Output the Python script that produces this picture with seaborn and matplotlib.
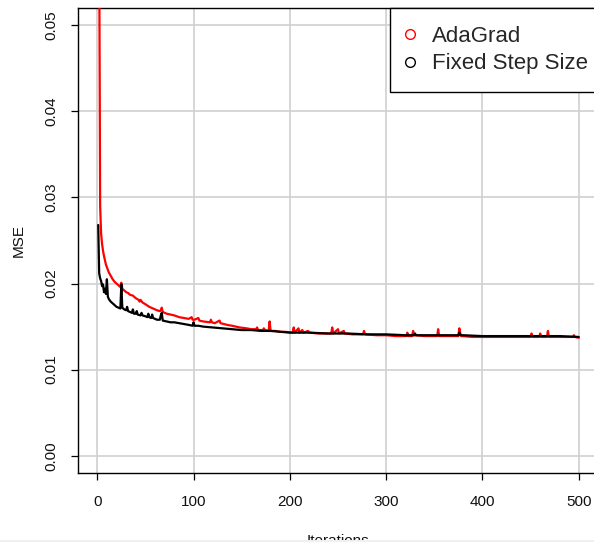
import matplotlib
matplotlib.use("Agg")
import matplotlib.pyplot as plt
from matplotlib.lines import Line2D
from matplotlib.patches import Rectangle
import seaborn as sns
import pandas as pd

# ---- data ----
ada_iter = [1, 2, 3, 4, 5, 6, 7, 8, 9, 10, 12, 14, 16, 18, 20, 22, 24, 25, 26, 28, 30, 32, 34,
            37, 40, 43, 44, 45, 47, 50, 54, 58, 62, 65, 66, 67, 68, 72, 76, 80, 85, 90, 95, 98,
            99, 101, 105, 106, 110, 117, 118, 119, 122, 127, 128, 135, 140, 148, 155, 160, 165,
            166, 167, 172, 173, 174, 178, 179, 180, 185, 190, 195, 203, 204, 205, 209, 210, 213,
            214, 219, 220, 230, 240, 243, 244, 245, 250, 251, 256, 257, 265, 276, 277, 278, 290,
            300, 310, 321, 322, 323, 327, 328, 329, 340, 353, 354, 355, 365, 375, 376, 377, 378,
            390, 400, 420, 440, 450, 451, 452, 459, 460, 461, 467, 468, 469, 480, 490, 494, 495,
            496, 500]
ada_mse = [0.30, 0.060, 0.0290, 0.0258, 0.0246, 0.0238, 0.0232, 0.0227, 0.0222, 0.0219, 0.0213,
           0.0209, 0.0205, 0.0202, 0.0200, 0.0198, 0.0196, 0.0201, 0.0194, 0.0192, 0.0190, 0.0189,
           0.0187, 0.0186, 0.0183, 0.0181, 0.0179, 0.0181, 0.0178, 0.0176, 0.0173, 0.0171, 0.0169,
           0.0168, 0.0169, 0.0172, 0.0167, 0.0165, 0.0164, 0.0163, 0.0161, 0.0160, 0.0159, 0.0161,
           0.0158, 0.0158, 0.0160, 0.0157, 0.0156, 0.0155, 0.0158, 0.0155, 0.0154, 0.0157, 0.0154,
           0.0152, 0.0151, 0.0149, 0.0148, 0.0147, 0.0147, 0.0149, 0.0146, 0.0146, 0.0148, 0.0146,
           0.0145, 0.0156, 0.0145, 0.0145, 0.0144, 0.0144, 0.0143, 0.0149, 0.0143, 0.0148, 0.0143,
           0.0146, 0.0143, 0.0145, 0.0143, 0.0142, 0.0142, 0.0142, 0.0149, 0.0142, 0.0147, 0.0142,
           0.0145, 0.0142, 0.0141, 0.0141, 0.0145, 0.0141, 0.0140, 0.0140, 0.0139, 0.0139, 0.0143,
           0.0139, 0.0139, 0.0145, 0.0140, 0.0139, 0.0139, 0.0147, 0.0139, 0.0139, 0.0139, 0.0148,
           0.0142, 0.0139, 0.0138, 0.0138, 0.0138, 0.0138, 0.0138, 0.0142, 0.0138, 0.0138, 0.0142,
           0.0138, 0.0138, 0.0145, 0.0138, 0.0138, 0.0138, 0.0138, 0.0140, 0.0138, 0.0137]

fixed_iter = [1, 2, 3, 4, 5, 6, 7, 8, 9, 10, 11, 12, 14, 16, 18, 20, 22, 24, 25, 26, 28, 30, 31,
              32, 34, 36, 37, 38, 40, 41, 42, 45, 46, 47, 50, 52, 53, 54, 56, 57, 58, 62, 65, 66,
              67, 68, 72, 76, 80, 85, 90, 95, 99, 100, 101, 105, 110, 120, 130, 140, 150, 160,
              170, 180, 190, 200, 220, 240, 260, 280, 300, 320, 329, 330, 331, 340, 360, 375, 376,
              377, 380, 400, 420, 440, 460, 480, 500]
fixed_mse = [0.0268, 0.0212, 0.0206, 0.0203, 0.0197, 0.0199, 0.0190, 0.0194, 0.0188, 0.0205,
             0.0185, 0.0182, 0.0179, 0.0177, 0.0175, 0.0173, 0.0172, 0.0171, 0.0199, 0.0172,
             0.0170, 0.0169, 0.0173, 0.0168, 0.0167, 0.0166, 0.0170, 0.0165, 0.0165, 0.0168,
             0.0164, 0.0163, 0.0166, 0.0163, 0.0162, 0.0161, 0.0165, 0.0161, 0.0160, 0.0164,
             0.0160, 0.0158, 0.0158, 0.0163, 0.0166, 0.0157, 0.0156, 0.0155, 0.0155, 0.0154,
             0.0153, 0.0152, 0.0151, 0.0155, 0.0151, 0.0151, 0.0150, 0.0149, 0.0148, 0.0147,
             0.0146, 0.0146, 0.0145, 0.0145, 0.0144, 0.0143, 0.0143, 0.0142, 0.0142, 0.0141,
             0.0141, 0.0140, 0.0140, 0.0142, 0.0140, 0.0140, 0.0140, 0.0140, 0.0143, 0.0140,
             0.0140, 0.0139, 0.0139, 0.0139, 0.0139, 0.0139, 0.0138]

series_names = ["AdaGrad", "Fixed Step Size"]
series_colors = ["#FF0000", "#000000"]
x_ticks = [0, 100, 200, 300, 400, 500]
y_ticks = [0.00, 0.01, 0.02, 0.03, 0.04, 0.05]
y_tick_labels = ["0.00", "0.01", "0.02", "0.03", "0.04", "0.05"]

df = pd.concat([
    pd.DataFrame({"Iterations": ada_iter, "MSE": ada_mse, "method": series_names[0]}),
    pd.DataFrame({"Iterations": fixed_iter, "MSE": fixed_mse, "method": series_names[1]}),
], ignore_index=True)

sns.set_style("ticks")
plt.rcParams["font.family"] = ["Liberation Sans", "DejaVu Sans"]

W, H = 594, 542
fig = plt.figure(figsize=(W / 100, H / 100), dpi=100)
ax = fig.add_axes([78 / W, (H - 473) / H, 520 / W, 465 / H])

palette = dict(zip(series_names, series_colors))
sns.lineplot(data=df, x="Iterations", y="MSE", hue="method", palette=palette,
             estimator=None, linewidth=1.6, legend=False, ax=ax, zorder=3)

ax.set_xlim(-20, 520)
ax.set_ylim(-0.002, 0.052)
ax.set_xticks(x_ticks)
ax.set_xticklabels([str(t) for t in x_ticks])
ax.set_yticks(y_ticks)
ax.set_yticklabels(y_tick_labels)

ax.grid(True, color="#d0d0d0", linewidth=1.2, zorder=0)
ax.set_axisbelow(True)

for s in ["left", "bottom", "top", "right"]:
    ax.spines[s].set_visible(True)
    ax.spines[s].set_color("black")
    ax.spines[s].set_linewidth(1.0)

ax.tick_params(axis="both", direction="out", length=5, width=0.9, colors="black",
               labelsize=11, labelcolor="#111111")
ax.tick_params(axis="x", pad=11)
ax.tick_params(axis="y", pad=9, labelrotation=90)
for lab in ax.get_yticklabels():
    lab.set_va("center")
    lab.set_ha("right")

ax.set_xlabel("Iterations", fontsize=11, color="#111111")
ax.set_ylabel("MSE", fontsize=11, color="#111111")
ax.xaxis.set_label_coords(0.5, -0.131)
ax.yaxis.set_label_coords(-0.100, 0.5)

handles = [Line2D([0], [0], linestyle="none", marker="o", markersize=7,
                  markerfacecolor="none", markeredgecolor=c, markeredgewidth=1.0)
           for c in series_colors]
leg = ax.legend(handles, series_names, loc="upper left",
                bbox_to_anchor=(390 / W, 1 - 8 / H), bbox_transform=fig.transFigure,
                fontsize=16, frameon=True, fancybox=False, framealpha=1,
                borderpad=0.8, borderaxespad=0, handlelength=0.2, handletextpad=0.9,
                labelspacing=0.3)
leg.get_frame().set_edgecolor("black")
leg.get_frame().set_linewidth(1.0)
leg.set_zorder(5)

fig.add_artist(Rectangle((0, 0), 1, 2 / H, transform=fig.transFigure,
                         facecolor="#f0f0f0", edgecolor="none", zorder=10))

fig.savefig("out.png", dpi=100)
